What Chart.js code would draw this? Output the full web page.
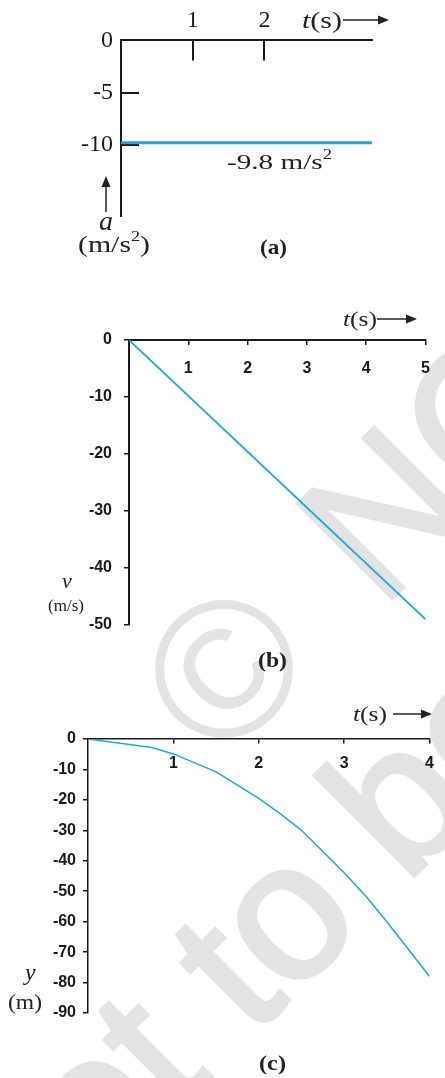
<!DOCTYPE html>
<html>
<head>
<meta charset="utf-8">
<script src="https://cdn.jsdelivr.net/npm/chart.js"></script>
<style>
  body { margin: 0; background: #fff; }
  #page { position: relative; width: 445px; height: 1078px; overflow: hidden; }
  canvas, svg { position: absolute; left: 0; }
</style>
</head>
<body>
<div id="page">
  <!-- light grey watermark behind the charts -->
  <svg width="445" height="1078" style="top:0">
    <g font-family="Liberation Sans" font-size="195" fill="#e3e3e3">
      <text transform="translate(271.5,716.5) rotate(-45)" text-anchor="middle">©</text>
      <text transform="translate(381,610) rotate(-45)" stroke="#e3e3e3" stroke-width="3">NCERT</text>
      <text transform="translate(22,1268) rotate(-45)" stroke="#e3e3e3" stroke-width="4">not to be republished</text>
    </g>
  </svg>

  <canvas id="chartA" width="445" height="270" style="top:0"></canvas>
  <canvas id="chartB" width="445" height="400" style="top:290px"></canvas>
  <canvas id="chartC" width="445" height="388" style="top:690px"></canvas>

  <!-- axis names, arrows and captions (the print is a little wide, so lengths are fixed) -->
  <svg width="445" height="1078" style="top:0" font-family="Liberation Serif" fill="#222">
    <!-- (a) -->
    <text x="302" y="28" font-size="24" textLength="40" lengthAdjust="spacingAndGlyphs"><tspan font-style="italic">t</tspan>(s)</text>
    <line x1="343" y1="20" x2="380" y2="20" stroke="#222" stroke-width="1.5"/>
    <polygon points="378,15.5 389,20 378,24.5"/>
    <text x="227" y="169" font-size="22" textLength="105" lengthAdjust="spacingAndGlyphs">-9.8 m/s<tspan font-size="14" dy="-10">2</tspan></text>
    <line x1="106" y1="212" x2="106" y2="185" stroke="#222" stroke-width="1.5"/>
    <polygon points="101.5,187 106,176 110.5,187"/>
    <text x="99" y="230" font-size="28" font-style="italic">a</text>
    <text x="78" y="252" font-size="23" textLength="72" lengthAdjust="spacingAndGlyphs">(m/s<tspan font-size="14" dy="-11">2</tspan><tspan dy="11">)</tspan></text>
    <text x="260" y="254" font-size="21" font-weight="bold" textLength="27" lengthAdjust="spacingAndGlyphs">(a)</text>

    <!-- (b) -->
    <text x="343" y="326" font-size="21" textLength="34" lengthAdjust="spacingAndGlyphs"><tspan font-style="italic">t</tspan>(s)</text>
    <line x1="377" y1="319" x2="408" y2="319" stroke="#222" stroke-width="1.5"/>
    <polygon points="406,314.5 417,319 406,323.5"/>
    <text x="62" y="588" font-size="22" font-style="italic">v</text>
    <text x="48" y="611" font-size="17" textLength="36" lengthAdjust="spacingAndGlyphs">(m/s)</text>
    <text x="258" y="667" font-size="21" font-weight="bold" textLength="29" lengthAdjust="spacingAndGlyphs">(b)</text>

    <!-- (c) -->
    <text x="353" y="721" font-size="21" textLength="34" lengthAdjust="spacingAndGlyphs"><tspan font-style="italic">t</tspan>(s)</text>
    <line x1="393" y1="714" x2="423" y2="714" stroke="#222" stroke-width="1.5"/>
    <polygon points="421,709.5 432,714 421,718.5"/>
    <text x="25" y="980" font-size="24" font-style="italic">y</text>
    <text x="8" y="1009" font-size="20" textLength="34" lengthAdjust="spacingAndGlyphs">(m)</text>
    <text x="259" y="1070" font-size="21" font-weight="bold" textLength="27" lengthAdjust="spacingAndGlyphs">(c)</text>
  </svg>
</div>

<script>
// (a) acceleration
var accTime = [0, 3.5]
var accValue = [-9.8, -9.8]
var accTicksX = [1, 2]
var accTicksY = [0, -5, -10]

// (b) velocity
var velTime = [0, 5]
var velValue = [0, -49]
var velTicksX = [1, 2, 3, 4, 5]
var velTicksY = [0, -10, -20, -30, -40, -50]

// (c) position
var posTime = [0, 0.75, 1, 1.5, 2, 2.25, 2.5, 3, 3.25, 3.5, 4]
var posValue = [0, -2.8, -4.9, -10.8, -19.5, -24.5, -30, -43.9, -51.5, -60, -78]
var posTicksX = [1, 2, 3, 4]
var posTicksY = [0, -10, -20, -30, -40, -50, -60, -70, -80, -90]

var blue = '#1aa8e2'
var ink = '#1a1a1a'

function points(xs, ys) {
  return xs.map(function (x, k) { return { x: x, y: ys[k] } })
}

function setTicks(list) {
  return function (scale) {
    scale.ticks = list.map(function (v) { return { value: v } })
  }
}

function baseOptions(padding) {
  return {
    responsive: false,
    animation: false,
    events: [],
    layout: { padding: padding },
    plugins: { legend: { display: false }, tooltip: { enabled: false } }
  }
}

var serifTicks = { family: 'Liberation Serif', size: 24 }
var sansTicks = { family: 'Liberation Sans', size: 16, weight: 'bold' }

// ---- chart (a)
var optA = baseOptions({ left: 0, top: 0, right: 73, bottom: 54 })
optA.scales = {
  x: {
    type: 'linear', position: 'top', min: 0, max: 3.5,
    afterBuildTicks: setTicks(accTicksX),
    afterFit: function (s) { s.height = 39 },
    grid: { drawOnChartArea: false, tickLength: -20, color: ink, lineWidth: 2 },
    border: { color: ink, width: 2 },
    ticks: { font: serifTicks, color: ink, padding: 25, maxRotation: 0, autoSkip: false }
  },
  y: {
    min: -16.8, max: 0,
    afterBuildTicks: setTicks(accTicksY),
    afterFit: function (s) { s.width = 121 },
    grid: { drawOnChartArea: false, tickLength: -18, color: ink, lineWidth: 2 },
    border: { color: ink, width: 2 },
    ticks: { font: serifTicks, color: ink, padding: 26 }
  }
}
new Chart(document.getElementById('chartA'), {
  type: 'line',
  data: { datasets: [{ data: points(accTime, accValue), borderColor: blue, borderWidth: 3, pointRadius: 0 }] },
  options: optA
})

// ---- chart (b)
var optB = baseOptions({ left: 0, top: 50, right: 16, bottom: 65 })
optB.scales = {
  x: {
    type: 'linear', position: { y: 0 }, min: 0, max: 5,
    afterBuildTicks: setTicks(velTicksX),
    grid: { drawOnChartArea: false, tickLength: 4, color: ink, lineWidth: 1.5 },
    border: { color: ink, width: 2 },
    ticks: { font: sansTicks, color: ink, padding: 15, maxRotation: 0, autoSkip: false }
  },
  y: {
    min: -50, max: 0,
    afterBuildTicks: setTicks(velTicksY),
    afterFit: function (s) { s.width = 129 },
    grid: { drawOnChartArea: false, tickLength: 5, color: ink, lineWidth: 1.5 },
    border: { color: ink, width: 2 },
    ticks: { font: sansTicks, color: ink, padding: 12 }
  }
}
new Chart(document.getElementById('chartB'), {
  type: 'line',
  data: { datasets: [{ data: points(velTime, velValue), borderColor: blue, borderWidth: 1.8, pointRadius: 0 }] },
  options: optB
})

// ---- chart (c)
var optC = baseOptions({ left: 0, top: 49, right: 5, bottom: 65 })
optC.scales = {
  x: {
    type: 'linear', position: { y: 0 }, min: 0, max: 4,
    afterBuildTicks: setTicks(posTicksX),
    grid: { drawOnChartArea: false, tickLength: 4, color: ink, lineWidth: 1.5 },
    border: { color: ink, width: 1.5 },
    ticks: { font: sansTicks, color: ink, padding: 11, maxRotation: 0, autoSkip: false }
  },
  y: {
    min: -90, max: 0,
    afterBuildTicks: setTicks(posTicksY),
    afterFit: function (s) { s.width = 88 },
    grid: { drawOnChartArea: false, tickLength: 5, color: ink, lineWidth: 1.5 },
    border: { color: ink, width: 1.5 },
    ticks: { font: sansTicks, color: ink, padding: 7 }
  }
}
new Chart(document.getElementById('chartC'), {
  type: 'line',
  data: { datasets: [{ data: points(posTime, posValue), borderColor: blue, borderWidth: 1.5, pointRadius: 0, tension: 0 }] },
  options: optC
})
</script>
</body>
</html>
